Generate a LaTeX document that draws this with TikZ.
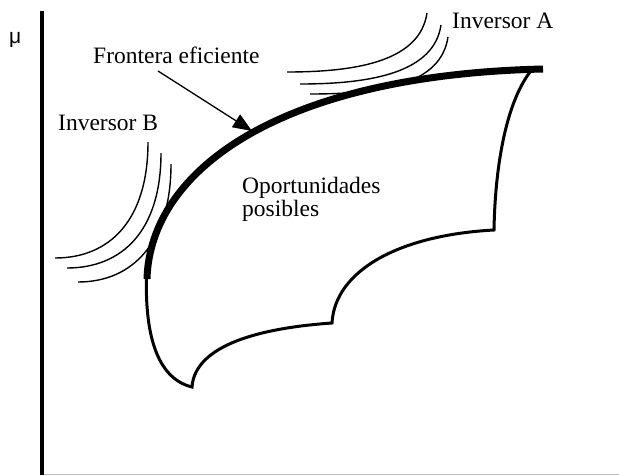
\documentclass[tikz,border=0pt]{standalone}
\usepackage{fontspec}
\setmainfont{Liberation Serif}
\newfontfamily\musans{Liberation Sans}
\usetikzlibrary{arrows.meta}
\begin{document}
\begin{tikzpicture}[x=1pt,y=-1pt,
  lbl/.style={anchor=base west,inner sep=0pt,font=\fontsize{23.5}{23}\selectfont},
  thin curve/.style={line width=1.4pt},
  region/.style={line width=3pt},
  frontier/.style={line width=7pt,line cap=butt}]
\useasboundingbox (0,0) rectangle (619,475);
% axes
\draw[gray!50,line width=1pt] (42,474.5) -- (619,474.5);
\draw[line width=3.8pt] (42,11) -- (42,475);
\node[lbl,font=\fontsize{21}{21}\musans] (mu) at (9,43) {μ};
% opportunity set boundary
\draw[region] (530,72) .. controls (505,105) and (495,170) .. (494,230)
  .. controls (400,235) and (335,270) .. (332,323)
  .. controls (260,328) and (195,345) .. (192,387)
  .. controls (155,378) and (145,330) .. (146.5,276);
% efficient frontier
\draw[frontier] (147,279) .. controls (150,170) and (280,75) .. (543,69);
% indifference curves A
\draw[thin curve] (427,13) .. controls (420,60) and (360,72) .. (287,72);
\draw[thin curve] (441,25) .. controls (434,72) and (373,84) .. (300,84);
\draw[thin curve] (448,37) .. controls (441,84) and (383,94) .. (310,94);
% indifference curves B
\draw[thin curve] (148,142) .. controls (148,220) and (110,258) .. (55,258);
\draw[thin curve] (161,153) .. controls (161,231) and (122,268) .. (67,268);
\draw[thin curve] (171,164) .. controls (171,242) and (133,282) .. (78,282);
% labels
\node[lbl] (fe) at (93,63) {Frontera eficiente};
\node[lbl] (ib) at (58,130) {Inversor B};
\node[lbl] (ia) at (452,28) {Inversor A};
\node[lbl] (op1) at (242,193) {Oportunidades};
\node[lbl] (op2) at (242,216) {posibles};
% arrow
\coordinate (as) at (158,71);
\coordinate (at) at (252,131);
\draw[line width=1.3pt,-{Triangle[length=19pt,width=15pt]}] (as) -- (at);
\end{tikzpicture}
\end{document}
